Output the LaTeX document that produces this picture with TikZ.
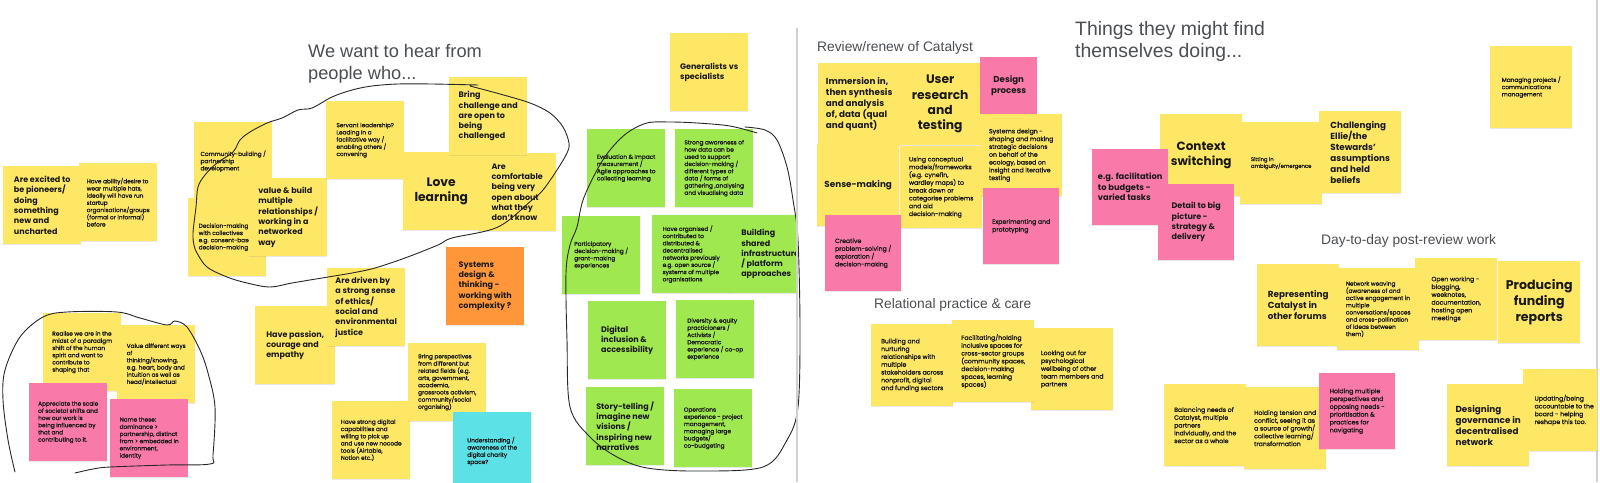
\documentclass[tikz,border=0pt]{standalone}
\usepackage{fontspec}
\setmainfont{Poppins}
\newfontfamily\finefont[FakeBold=1.2]{Poppins}
\newfontfamily\headfont{Liberation Sans}
\usetikzlibrary{shadows}
\definecolor{stickyyellow}{RGB}{255,231,102}
\definecolor{stickypink}{RGB}{249,122,168}
\definecolor{stickygreen}{RGB}{160,232,80}
\definecolor{stickyorange}{RGB}{255,151,58}
\definecolor{stickycyan}{RGB}{92,225,230}
\definecolor{headgray}{RGB}{75,78,82}
\definecolor{penblack}{RGB}{40,40,40}

\begin{document}
\begin{tikzpicture}[x=1pt,y=-1pt,
    note/.style={anchor=north west,inner sep=0pt,minimum width=78pt,minimum height=78pt,align=left,text=black!90,
      drop shadow={opacity=.18,shadow xshift=0pt,shadow yshift=-1.2pt}},
    rsize/.style={minimum width=82pt,minimum height=82pt},
    psize/.style={minimum width=76pt,minimum height=76pt},
    yel/.style={note,fill=stickyyellow},
    pnk/.style={note,fill=stickypink},
    grn/.style={note,fill=stickygreen},
    orn/.style={note,fill=stickyorange},
    cyn/.style={note,fill=stickycyan},
    fine/.style={font=\finefont\fontsize{5.8}{7.2}\selectfont},
    fineR/.style={font=\finefont\fontsize{6.2}{7.8}\selectfont},
    heavy/.style={font=\fontsize{8}{10.3}\selectfont\bfseries},
    heavyR/.style={font=\fontsize{8.8}{11}\selectfont\bfseries},
    jumbo/.style={font=\fontsize{12.3}{15.3}\selectfont\bfseries,align=center},
    head/.style={anchor=north west,inner sep=0pt,align=left,text=headgray,font=\headfont\fontsize{13.8}{16}\selectfont},
    pen/.style={draw=penblack,line width=0.9pt,line cap=round,line join=round},
    divider/.style={draw=black!18,line width=1.2pt}
  ]
  \useasboundingbox (0,0) rectangle (1600,482);
  \clip (0,0) rectangle (1600,482);
  \fill[white] (0,0) rectangle (1600,482);

  % left board: who we want to hear from
  \node[head,font=\headfont\fontsize{18.2}{21.7}\selectfont] (hear) at (308,44) {We want to hear from\\people who...};

  \node[yel,fine] (hats) at (79,163) {Have ability/desire to\\wear multiple hats,\\ideally will have run\\startup\\organisations/groups\\(formal or informal)\\before};
  \node[yel,heavy] (pioneers) at (3,166) {Are excited to\\be pioneers/\\doing\\something\\new and\\uncharted};
  \node[yel,fine] (community) at (194,122) {Community-building /\\partnership\\development};
  \node[yel,fine] (consent) at (188,198) {Decision-making\\with collectives\\e.g. consent-based\\decision-making};
  \node[yel,heavy] (networked) at (249,178) {value \& build\\multiple\\relationships /\\working in a\\networked\\way};
  \node[yel,fine] (servant) at (326,101) {Servant leadership?\\Leading in a\\facilitative way /\\enabling others /\\convening};
  \node[yel,jumbo,minimum width=76pt] (love) at (403,152) {Love\\learning};
  \node[yel,heavy] (comfortable) at (478,153) {Are\\comfortable\\being very\\open about\\what they\\don't know};
  \node[yel,heavy] (challenge) at (449,77) {Bring\\challenge and\\are open to\\being\\challenged};
  \node[yel,heavy] (generalists) at (670,33) {Generalists vs\\specialists};

  \node[grn,fine] (evaluation) at (587,129) {Evaluation \& Impact\\measurement /\\Agile approaches to\\collecting learning};
  \node[grn,fine] (awareness) at (675,129) {Strong awareness of\\how data can be\\used to support\\decision-making /\\different types of\\data / forms of\\gathering ,analysing\\and visualising data};
  \node[grn,fine] (participatory) at (562,216) {Participatory\\decision-making /\\grant-making\\experiences};
  \node[grn,fine] (organised) at (652,215) {Have organised /\\contributed to\\distributed \&\\decentralised\\networks previously\\e.g. open source /\\systems of multiple\\organisations};
  \begin{scope}
    \clip (0,0) rectangle (797,482);
    \node[grn,heavy,minimum width=82pt] (shared) at (729,215) {Building\\shared\\infrastructure\\/ platform\\approaches};
  \end{scope}
  \node[grn,heavy] (inclusion) at (588,301) {Digital\\inclusion \&\\accessibility};
  \node[grn,fine] (diversity) at (676,300) {Diversity \& equity\\practicioners /\\Activists /\\Democratic\\experience / co-op\\experience};
  \node[grn,heavy] (story) at (586,387) {Story-telling /\\imagine new\\visions /\\inspiring new\\narratives};
  \node[grn,fine] (operations) at (674,389) {Operations\\experience - project\\management,\\managing large\\budgets/\\co-budgeting};

  \node[orn,heavy] (complexity) at (446,247) {Systems\\design \&\\thinking -\\working with\\complexity ?};
  \node[yel,heavy,minimum width=80pt] (passion) at (255,306) {Have passion,\\courage and\\empathy};
  \node[yel,heavy] (ethics) at (327,268) {Are driven by\\a strong sense\\of ethics/\\social and\\environmental\\justice};
  \node[yel,fine] (nocode) at (332,401) {Have strong digital\\capabilities and\\willing to pick up\\and use new nocode\\tools (Airtable,\\Notion etc.)};
  \node[yel,fine] (perspectives) at (408,343) {Bring perspectives\\from different but\\related fields (e.g.\\arts, government,\\academia,\\grassroots activism,\\community/social\\organising)};
  \node[cyn,fine] (charity) at (453,412) {Understanding /\\awareness of the\\digital charity\\space?};

  \node[yel,fine] (paradigm) at (43,313) {Realise we are in the\\midst of a paradigm\\shift of the human\\spirit and want to\\contribute to\\shaping that};
  \node[yel,fine] (knowing) at (117,325) {Value different ways\\of\\thinking/knowing,\\e.g. heart, body and\\intuition as well as\\head/intellectual};
  \node[pnk,fine] (societal) at (29,383) {Appreciate the scale\\of societal shifts and\\how our work is\\being influenced by\\that and\\contributing to it.};
  \node[pnk,fine] (dominance) at (110,399) {Name these:\\dominance >\\partnership, distinct\\from > embedded in\\environment,\\identity};

  % hand-drawn loops
  \draw[pen] plot[smooth,tension=0.55] coordinates {(478,85) (432,84) (398,84) (372,86) (352,90) (332,97) (312,108) (298,110) (282,118) (267,123) (250,132) (240,140) (233,152) (217,163) (205,175) (198,187) (196,207) (193,233) (194,245) (197,253) (207,267) (227,277) (247,283) (270,287) (292,283) (322,278) (352,273) (375,268) (405,258) (438,245) (452,238) (498,227) (532,200) (543,190) (557,170) (567,153) (569,143) (563,127) (550,113) (530,103) (500,94) (470,86)};
  \draw[pen] plot[smooth,tension=0.55] coordinates {(757,133) (730,126) (697,123) (670,122) (647,123) (627,133) (610,150) (597,170) (583,200) (577,227) (570,245) (566,273) (567,340) (570,407) (590,437) (617,457) (647,468) (697,471) (763,467) (787,440) (798,407) (800,330) (798,240) (793,200) (787,167) (777,140) (765,130) (745,127)};
  \draw[pen] plot[smooth,tension=0.55] coordinates {(15,472) (8,440) (3,400) (5,370) (20,337) (43,317) (67,312) (117,312) (140,318) (167,325) (175,321) (187,327) (200,350) (208,373) (215,407) (213,455) (210,464) (167,465) (110,467) (93,469) (75,473)};

  % right board: things they might find themselves doing
  \draw[divider] (797,28) -- (797,482);
  \draw[divider] (1597,0) -- (1597,482);

  \node[head,font=\headfont\fontsize{19.4}{22.7}\selectfont] (doing) at (1075,21) {Things they might find\\themselves doing...};
  \node[head] (review) at (817,41) {Review/renew of Catalyst};
  \node[head] (relational) at (874,298) {Relational practice \& care};
  \node[head] (daytoday) at (1321,234) {Day-to-day post-review work};

  \node[yel,rsize,heavyR] (immersion) at (818,63) {Immersion in,\\then synthesis\\and analysis\\of, data (qual\\and quant)};
  \node[yel,rsize,heavyR] (sense) at (817,144) {Sense-making};
  \node[yel,rsize,jumbo] (research) at (899,63) {User\\research\\and\\testing};
  \node[yel,rsize,fineR] (conceptual) at (900,146) {Using conceptual\\models/frameworks\\(e.g. cynefin,\\wardley maps) to\\break down or\\categorise problems\\and aid\\decision-making};
  \node[pnk,heavyR,align=center,minimum width=57pt,minimum height=57pt,font=\fontsize{8.6}{10.7}\selectfont\bfseries] (designproc) at (980,57) {Design\\process};
  \node[yel,rsize,fineR] (sysdesign) at (980,114) {Systems design -\\shaping and making\\strategic decisions\\on behalf of the\\ecology, based on\\insight and iterative\\testing};
  \node[pnk,psize,fineR] (experiment) at (983,188) {Experimenting and\\prototyping};
  \node[pnk,psize,fineR] (creative) at (825,215) {Creative\\problem-solving /\\exploration /\\decision-making};

  \node[yel,rsize,fineR] (wellbeing) at (1031,328) {Looking out for\\psychological\\wellbeing of other\\team members and\\partners};
  \node[yel,rsize,fineR] (nurturing) at (871,324) {Building and\\nurturing\\relationships with\\multiple\\stakeholders across\\nonprofit, digital\\and funding sectors};
  \node[yel,rsize,fineR] (spaces) at (952,320) {Facilitating/holding\\inclusive spaces for\\cross-sector groups\\(community spaces,\\decision-making\\spaces, learning\\spaces)};

  \node[yel,rsize,jumbo,font=\fontsize{12}{15}\selectfont\bfseries] (context) at (1160,114) {Context\\switching};
  \node[pnk,psize,heavy,font=\fontsize{8.3}{10.5}\selectfont\bfseries] (budgets) at (1092,149) {e.g. facilitation\\to budgets -\\varied tasks};
  \node[pnk,psize,heavy] (bigpicture) at (1158,184) {Detail to big\\picture -\\strategy \&\\delivery};
  \node[yel,rsize,heavyR] (ellie) at (1319,111) {Challenging\\Ellie/the\\Stewards'\\assumptions\\and held\\beliefs};
  \node[yel,rsize,font=\finefont\fontsize{5.3}{6.7}\selectfont] (ambiguity) at (1240,122) {Sitting in\\ambiguity/emergence};
  \node[yel,rsize,fine] (managing) at (1490,46) {Managing projects /\\communications\\management};

  \node[yel,rsize,heavyR] (forums) at (1257,264) {Representing\\Catalyst in\\other forums};
  \node[yel,rsize,fineR] (openwork) at (1415,258) {Open working -\\blogging,\\weeknotes,\\documentation,\\hosting open\\meetings};
  \node[yel,rsize,fine] (weaving) at (1337,268) {Network weaving\\(awareness of and\\active engagement in\\multiple\\conversations/spaces\\and cross-pollination\\of ideas between\\them)};
  \node[yel,rsize,jumbo,font=\fontsize{12.6}{15.6}\selectfont\bfseries] (funding) at (1498,261) {Producing\\funding\\reports};

  \node[yel,rsize,fineR] (balancing) at (1164,384) {Balancing needs of\\Catalyst, multiple\\partners\\individually, and the\\sector as a whole};
  \node[yel,rsize,fineR] (tension) at (1244,387) {Holding tension and\\conflict, seeing it as\\a source of growth/\\collective learning/\\transformation};
  \node[pnk,psize,fineR] (opposing) at (1319,373) {Holding multiple\\perspectives and\\opposing needs -\\prioritisation \&\\practices for\\navigating};
  \begin{scope}
    \clip (797,0) rectangle (1597,482);
    \node[yel,rsize,fineR] (board) at (1523,369) {Updating/being\\accountable to the\\board - helping\\reshape this too.};
  \end{scope}
  \node[yel,rsize,heavyR] (governance) at (1447,384) {Designing\\governance in\\decentralised\\network};
\end{tikzpicture}
\end{document}
